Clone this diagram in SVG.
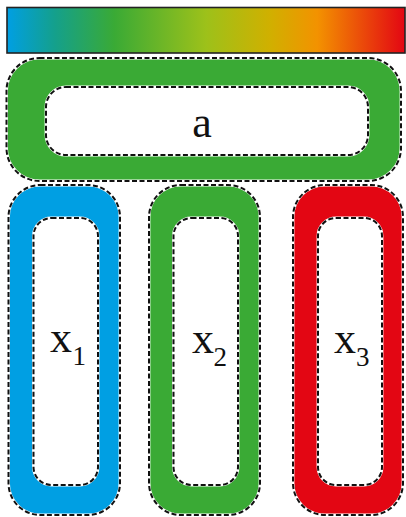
<svg xmlns="http://www.w3.org/2000/svg" width="406" height="517" viewBox="0 0 406 517">
<defs>
<linearGradient id="cbar" x1="0" y1="0" x2="1" y2="0">
<stop offset="0" stop-color="#009FE3"/>
<stop offset="0.12" stop-color="#14A08C"/>
<stop offset="0.27" stop-color="#3AAA35"/>
<stop offset="0.5" stop-color="#9DC11A"/>
<stop offset="0.66" stop-color="#D0B000"/>
<stop offset="0.78" stop-color="#F39200"/>
<stop offset="1" stop-color="#E30613"/>
</linearGradient>
</defs>
<style>
.halo{fill:none;stroke:#ffffff;stroke-width:2.8}
.dash{fill:none;stroke:#111111;stroke-width:2;stroke-dasharray:5 2.5}
.inner{fill:#ffffff}
.lbl{font-family:"Liberation Serif","Times New Roman",serif;fill:#111111}
.main{font-size:44px}
.sub{font-size:27px}
</style>
<rect x="0" y="0" width="406" height="517" fill="#ffffff"/>
<g id="colorbar">
<rect x="7" y="7.5" width="398" height="45.5" fill="url(#cbar)" stroke="#222222" stroke-width="1.6"/>
</g>
<g id="node-a">
<rect x="6.5" y="58" width="394.5" height="123" rx="33" fill="#3AAA35"/>
<rect class="halo" x="6.5" y="58" width="394.5" height="123" rx="33"/>
<rect class="dash" x="6.5" y="58" width="394.5" height="123" rx="33"/>
<rect class="inner" x="46" y="87" width="322" height="68" rx="20"/>
<rect class="halo" x="46" y="87" width="322" height="68" rx="20"/>
<rect class="dash" x="46" y="87" width="322" height="68" rx="20"/>
<text class="lbl main" x="202" y="137" text-anchor="middle">a</text>
</g>
<g id="node-x1">
<rect x="8.5" y="185" width="111.5" height="330" rx="32" fill="#009FE3"/>
<rect class="halo" x="8.5" y="185" width="111.5" height="330" rx="32"/>
<rect class="dash" x="8.5" y="185" width="111.5" height="330" rx="32"/>
<rect class="inner" x="33.5" y="218" width="64.5" height="267" rx="18"/>
<rect class="halo" x="33.5" y="218" width="64.5" height="267" rx="18"/>
<rect class="dash" x="33.5" y="218" width="64.5" height="267" rx="18"/>
<text class="lbl main" x="50" y="352">x</text>
<text class="lbl sub" x="72.5" y="365">1</text>
</g>
<g id="node-x2">
<rect x="149" y="185" width="111" height="330" rx="32" fill="#3AAA35"/>
<rect class="halo" x="149" y="185" width="111" height="330" rx="32"/>
<rect class="dash" x="149" y="185" width="111" height="330" rx="32"/>
<rect class="inner" x="173.5" y="218" width="64.5" height="267" rx="18"/>
<rect class="halo" x="173.5" y="218" width="64.5" height="267" rx="18"/>
<rect class="dash" x="173.5" y="218" width="64.5" height="267" rx="18"/>
<text class="lbl main" x="192" y="353">x</text>
<text class="lbl sub" x="213.5" y="366">2</text>
</g>
<g id="node-x3">
<rect x="293" y="185" width="110" height="330" rx="32" fill="#E30613"/>
<rect class="halo" x="293" y="185" width="110" height="330" rx="32"/>
<rect class="dash" x="293" y="185" width="110" height="330" rx="32"/>
<rect class="inner" x="318" y="218" width="64" height="267" rx="18"/>
<rect class="halo" x="318" y="218" width="64" height="267" rx="18"/>
<rect class="dash" x="318" y="218" width="64" height="267" rx="18"/>
<text class="lbl main" x="334" y="353">x</text>
<text class="lbl sub" x="356" y="366">3</text>
</g>
<g id="connectors"></g>
</svg>
